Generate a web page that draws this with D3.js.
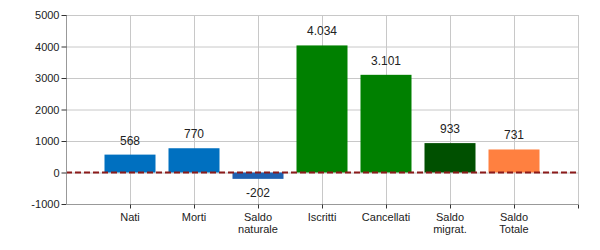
<!DOCTYPE html>
<html><head><meta charset="utf-8">
<script src="https://cdn.jsdelivr.net/npm/d3@7"></script>
<style>body{margin:0;background:#fff}svg{display:block}text{font-family:"Liberation Sans",Arial,sans-serif}</style>
</head><body><svg id="c" width="600" height="250"></svg>
<script>
const categories = [["Nati"],["Morti"],["Saldo","naturale"],["Iscritti"],["Cancellati"],["Saldo","migrat."],["Saldo","Totale"]];
const values = [568, 770, -202, 4034, 3101, 933, 731];
const colors = ["#0070C0","#0070C0","#2060B0","#008000","#008000","#005000","#FF8040"];
const yTicks = [-1000, 0, 1000, 2000, 3000, 4000, 5000];

const svg = d3.select("#c");
const m = {l:66, r:22, t:15, b:46};
const W = 600, H = 250;
const x = d3.scaleLinear().domain([0, 8]).range([m.l, W - m.r]);
const y = d3.scaleLinear().domain([-1000, 5000]).range([H - m.b, m.t]);
const bw = 51;
const loc = d3.formatLocale({decimal:",", thousands:".", grouping:[3], currency:["€",""], minus:"-"});
const it = loc.format(",d");
const plain = loc.format("d");

// grid
const g = svg.append("g");
g.selectAll("line.h").data(yTicks.filter(d=>d>-1000)).join("line")
  .attr("x1", m.l).attr("x2", x(8)).attr("y1", d=>y(d)+0.5).attr("y2", d=>y(d)+0.5)
  .attr("stroke", "#c8c8c8");
g.selectAll("line.v").data(d3.range(1, 9)).join("line")
  .attr("x1", d=>Math.round(x(d))+0.5).attr("x2", d=>Math.round(x(d))+0.5)
  .attr("y1", m.t).attr("y2", y(-1000)).attr("stroke", "#c8c8c8");

// bars
svg.selectAll("rect.bar").data(values).join("rect")
  .attr("x", (d,i)=>x(i+1)-bw/2).attr("width", bw)
  .attr("y", d=>y(Math.max(0,d))).attr("height", d=>Math.abs(y(d)-y(0)))
  .attr("fill", (d,i)=>colors[i]);

// zero line
svg.append("line").attr("x1", m.l).attr("x2", x(8)).attr("y1", y(0)).attr("y2", y(0))
  .attr("stroke", "#8B1A1A").attr("stroke-width", 2).attr("stroke-dasharray", "6,3");

// axes
const ya = svg.append("g").attr("transform", `translate(${m.l+0.5},0)`)
  .call(d3.axisLeft(y).tickValues(yTicks).tickSize(5).tickPadding(2).tickFormat(plain));
ya.select(".domain").attr("stroke", "#999").attr("d", `M0,${m.t}V${y(-1000)}`);
ya.selectAll(".tick line").attr("stroke", "#333");
ya.selectAll(".tick text").attr("font-size", 11).attr("fill", "#222").attr("font-family", "Liberation Sans, Arial, sans-serif");

const xa = svg.append("g").attr("transform", `translate(0,${y(-1000)+0.5})`)
  .call(d3.axisBottom(x).tickValues(d3.range(1,9)).tickSize(4).tickFormat(""));
xa.select(".domain").attr("stroke", "#999").attr("d", `M${m.l},0H${x(8)}`);
xa.selectAll(".tick line").attr("stroke", "#333");

// x labels
const xl = svg.append("g").selectAll("text").data(categories).join("text")
  .attr("x", (d,i)=>x(i+1)).attr("y", 221).attr("text-anchor", "middle")
  .attr("font-size", 11).attr("fill", "#222");
xl.selectAll("tspan").data(d=>d).join("tspan")
  .attr("x", function(){return this.parentNode.getAttribute("x");})
  .attr("dy", (d,i)=>i ? 12 : 0).text(d=>d);

// value labels
svg.selectAll("text.val").data(values).join("text")
  .attr("x", (d,i)=>x(i+1)).attr("y", d=> d>=0 ? y(d)-10 : y(d)+18)
  .attr("text-anchor", "middle").attr("font-size", 12).attr("fill", "#222")
  .text(d=>it(d));
</script></body></html>
